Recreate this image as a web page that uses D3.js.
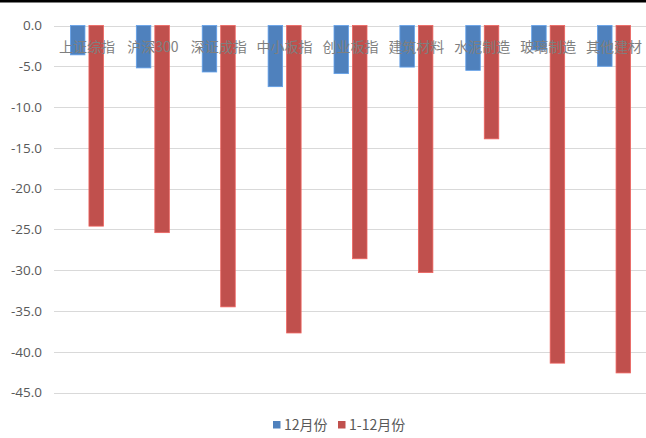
<!DOCTYPE html>
<html>
<head>
<meta charset="utf-8">
<script src="https://cdn.jsdelivr.net/npm/d3@7/dist/d3.min.js"></script>
<style>
  html, body { margin: 0; padding: 0; background: #fff; }
  svg { display: block; }
</style>
</head>
<body>
<script>
// Index and sector returns (%), December vs. full year
const categories = ["上证综指", "沪深300", "深证成指", "中小板指", "创业板指", "建筑材料", "水泥制造", "玻璃制造", "其他建材"];
const seriesNames = ["12月份", "1-12月份"];
const decValues = [-3.6, -5.2, -5.7, -7.5, -5.9, -5.1, -5.5, -3.0, -5.0];
const ytdValues = [-24.6, -25.4, -34.5, -37.7, -28.6, -30.3, -13.9, -41.4, -42.6];
const yTicks = [0, -5, -10, -15, -20, -25, -30, -35, -40, -45];

const W = 646, H = 438;
const margin = { top: 25.5, left: 54, right: -1, bottom: 45.5 };
const colors = ["#4f81bd", "#c0504d"];

const svg = d3.select("body").append("svg").attr("width", W).attr("height", H);

// thin dark strip along the top edge
svg.append("rect").attr("x", 0).attr("y", 0).attr("width", W).attr("height", 2.5).attr("fill", "#000");

const x = d3.scaleBand().domain(categories).range([margin.left, W - margin.right]).paddingInner(0).paddingOuter(0);
const y = d3.scaleLinear().domain([0, -45]).range([margin.top, H - margin.bottom]);

// horizontal gridlines
svg.append("g").selectAll("line").data(yTicks).join("line")
  .attr("x1", margin.left).attr("x2", W)
  .attr("y1", d => Math.round(y(d)) + 0.5).attr("y2", d => Math.round(y(d)) + 0.5)
  .attr("stroke", "#d9d9d9").attr("stroke-width", 1.2);

// y axis labels
const yAxis = d3.axisLeft(y).tickValues(yTicks).tickFormat(d3.format(".1f")).tickSize(0).tickPadding(12);
const gy = svg.append("g").attr("transform", `translate(${margin.left},0)`).call(yAxis);
gy.select(".domain").remove();
gy.selectAll("text")
  .attr("font-family", "'Open Sans', 'Noto Sans', sans-serif")
  .attr("font-size", 13.5).attr("fill", "#595959")
  .text(d => d3.format(".1f")(d).replace("−", "-"));

// bars
const barW = 14.5, gap = 4;
const series = [decValues, ytdValues];
series.forEach((vals, si) => {
  svg.append("g").selectAll("rect").data(vals).join("rect")
    .attr("x", (d, i) => x(categories[i]) + x.bandwidth() / 2 + (si === 0 ? -(barW + gap / 2) : gap / 2))
    .attr("y", y(0))
    .attr("width", barW)
    .attr("height", d => y(d) - y(0))
    .attr("fill", colors[si])
    .attr("stroke", d3.color(colors[si]).brighter(0.6))
    .attr("stroke-width", 0.8);
});

// category labels near the zero line
svg.append("g").selectAll("text").data(categories).join("text")
  .attr("x", d => x(d) + x.bandwidth() / 2)
  .attr("y", y(0) + 26)
  .attr("text-anchor", "middle")
  .attr("font-family", "'Noto Sans CJK SC', sans-serif")
  .attr("font-size", 14)
  .attr("fill", "#7f7f7f")
  .text(d => d);

// legend
const legend = svg.append("g").attr("transform", "translate(273,425)");
const items = [{ name: seriesNames[0], c: colors[0], x: 0 }, { name: seriesNames[1], c: colors[1], x: 65 }];
items.forEach(it => {
  legend.append("rect").attr("x", it.x).attr("y", -4).attr("width", 7.5).attr("height", 7.5).attr("fill", it.c);
  legend.append("text").attr("x", it.x + 11).attr("y", 5)
    .attr("font-family", "'Noto Sans CJK SC', sans-serif")
    .attr("font-size", 14).attr("fill", "#595959").text(it.name);
});
</script>
</body>
</html>
